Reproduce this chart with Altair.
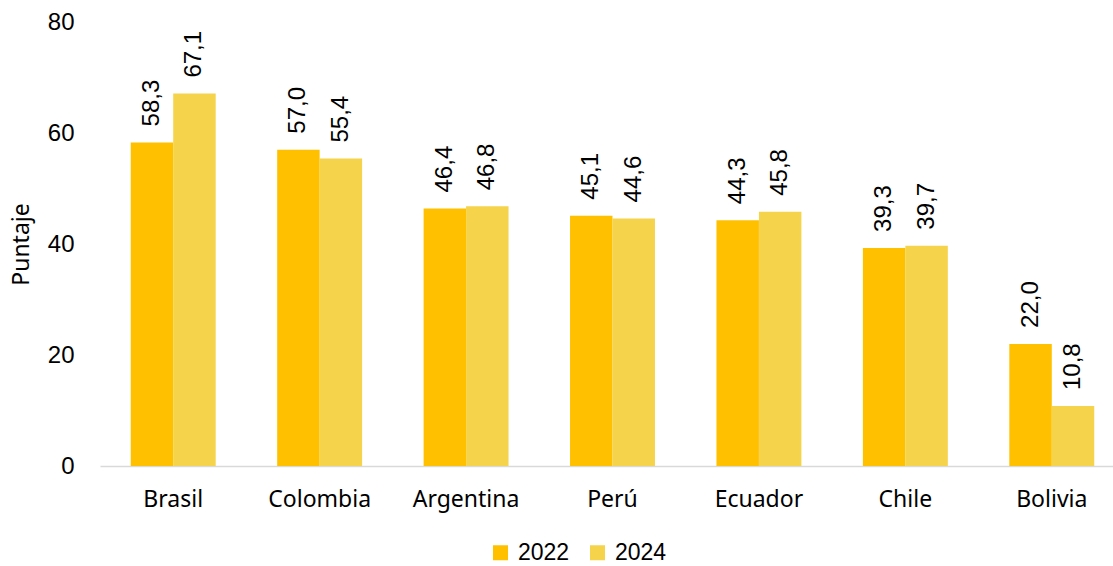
import altair as alt
import pandas as pd

# Puntaje por país, 2022 y 2024
paises = ["Brasil", "Colombia", "Argentina", "Perú", "Ecuador", "Chile", "Bolivia"]
valores_2022 = [58.3, 57.0, 46.4, 45.1, 44.3, 39.3, 22.0]
valores_2024 = [67.1, 55.4, 46.8, 44.6, 45.8, 39.7, 10.8]
anios = ["2022", "2024"]
colores = ["#FFC000", "#F5D34B"]
ticks_y = [0, 20, 40, 60, 80]

filas = []
for anio, serie in zip(anios, [valores_2022, valores_2024]):
    for pais, v in zip(paises, serie):
        filas.append({"pais": pais, "anio": anio, "valor": v,
                      "etiqueta": f"{v:.1f}".replace(".", ",")})
df = pd.DataFrame(filas)

x_enc = alt.X(
    "pais:N", sort=paises, title=None,
    scale=alt.Scale(paddingInner=0.42, paddingOuter=0.21, range=[0, 1025]),
    axis=alt.Axis(labelAngle=0, labelFont="Noto Sans", labelFontSize=23,
                  labelColor="#000000", labelPadding=22, ticks=False,
                  domainColor="#D9D9D9", domainWidth=1.5),
)
y_enc = alt.Y(
    "valor:Q", title="Puntaje",
    scale=alt.Scale(domain=[0, 80], nice=False),
    axis=alt.Axis(values=ticks_y, grid=False, domain=False, ticks=False,
                  labelFont="Liberation Sans", labelFontSize=24,
                  labelColor="#000000", labelPadding=26,
                  titleFont="Noto Sans", titleFontSize=23,
                  titleFontWeight="normal", titleColor="#000000",
                  titlePadding=14),
)
xoff = alt.XOffset("anio:N", sort=anios, scale=alt.Scale(paddingInner=0))

barras = alt.Chart(df).mark_bar().encode(
    x=x_enc,
    y=y_enc,
    xOffset=xoff,
    color=alt.Color(
        "anio:N", sort=anios, title=None,
        scale=alt.Scale(domain=anios, range=colores),
        legend=alt.Legend(orient="none", direction="horizontal",
                          legendX=389, legendY=519, padding=0,
                          symbolType="square", symbolSize=225,
                          symbolStrokeWidth=0, symbolOffset=0,
                          labelFont="Liberation Sans", labelFontSize=23,
                          labelColor="#000000", labelOffset=6,
                          columnPadding=16),
    ),
)

etiquetas = alt.Chart(df).mark_text(
    angle=270, align="left", baseline="middle", dx=16,
    font="Liberation Sans", fontSize=24, color="#000000",
).encode(
    x=alt.X("pais:N", sort=paises),
    y=alt.Y("valor:Q"),
    xOffset=xoff,
    text="etiqueta:N",
)

chart = (
    alt.layer(barras, etiquetas)
    .properties(
        width=1013, height=444,
        background="#FFFFFF",
        autosize=alt.AutoSizeParams(type="none"),
        padding={"left": 100, "top": 22, "right": 0, "bottom": 100},
    )
    .configure_view(stroke="#FFFFFF", strokeWidth=0, strokeOpacity=0)
)

chart.save("out.html", embed_options={"renderer": "svg", "actions": False})
